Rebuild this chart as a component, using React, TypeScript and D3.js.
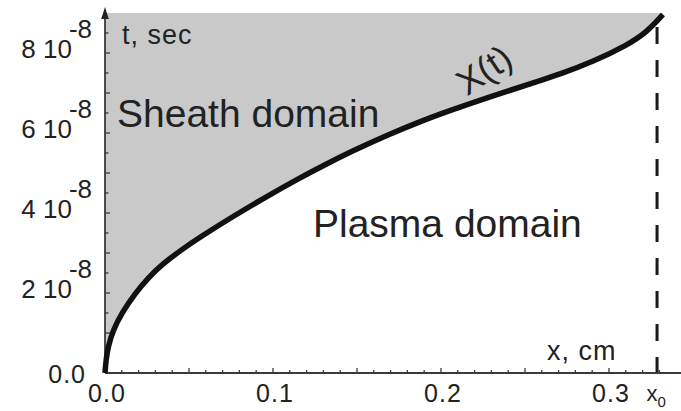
import React from "react";
import * as d3 from "d3";

// Boundary X(t): x in cm, t in units of 1e-8 s
const curveX = [0, 0.0006, 0.0018, 0.0048, 0.0101, 0.0179, 0.0256, 0.0339, 0.0458, 0.0565, 0.0762, 0.0964, 0.1161, 0.128, 0.1476, 0.1679, 0.1875, 0.1994, 0.219, 0.2393, 0.2589, 0.2708, 0.2905, 0.3107, 0.3226, 0.3321];
const curveT = [0, 0.325, 0.65, 1.075, 1.51, 1.99, 2.375, 2.715, 3.09, 3.395, 3.915, 4.418, 4.88, 5.145, 5.558, 5.948, 6.285, 6.475, 6.763, 7.043, 7.308, 7.473, 7.785, 8.193, 8.523, 8.963];

const xTickValues = [0, 0.1, 0.2, 0.3];
const xTickLabels = ["0.0", "0.1", "0.2", "0.3"];
const yTickValues = [0, 2, 4, 6, 8];
const yTickMantissa = ["0.0", "2 10", "4 10", "6 10", "8 10"];
const yExponent = "-8";
const x0Value = 0.3286;
const tTop = 9;

const FONT = "'Liberation Sans', Arial, Helvetica, sans-serif";

export default function App() {
  const W = 681, H = 411;
  const x = d3.scaleLinear().domain([0, 0.1]).range([105, 273]);
  const y = d3.scaleLinear().domain([0, 2]).range([373, 293]);

  const pts: [number, number][] = curveX.map((v, i) => [v, curveT[i]]);
  const line = d3.line<[number, number]>()
    .x(d => x(d[0]))
    .y(d => y(d[1]))
    .curve(d3.curveBasis);
  const curvePath = line(pts) || "";
  const last = pts[pts.length - 1];
  const fillPath = curvePath + `L${x(last[0])},${y(tTop)}L${x(0)},${y(tTop)}Z`;

  const xMinor = d3.range(0, 34).map(i => i / 100);
  const yMinor = d3.range(0, 18).map(i => i * 0.5);

  const axisColor = "#3a3a3a";
  const textColor = "#222";

  return (
    <svg width={W} height={H} style={{ position: "absolute", left: 0, top: 0, background: "#fff" }}
      fontFamily={FONT}>
      <rect x={0} y={0} width={W} height={H} fill="#fff" />
      {/* sheath domain fill */}
      <path d={fillPath} fill="#c9c9c9" stroke="none" />

      {/* dashed x0 line */}
      <line x1={x(x0Value)} x2={x(x0Value)} y1={27} y2={y(0)} stroke="#1a1a1a" strokeWidth={3}
        strokeDasharray="17 16" />

      {/* x axis */}
      <line x1={x(0)} x2={W} y1={y(0)} y2={y(0)} stroke={axisColor} strokeWidth={1.8} />
      {xMinor.map((v, i) => (
        <line key={"xm" + i} x1={x(v)} x2={x(v)} y1={y(0)} y2={y(0) - (i % 5 === 0 ? 5 : 3)}
          stroke={axisColor} strokeWidth={1.3} />
      ))}
      {/* y axis */}
      <line x1={x(0)} x2={x(0)} y1={y(0)} y2={16} stroke={axisColor} strokeWidth={1.8} />
      <path d={`M${x(0)},7L${x(0) - 3.8},19L${x(0) + 3.8},19Z`} fill="#222" />
      {yMinor.map((v, i) => (
        <line key={"ym" + i} x1={x(0)} x2={x(0) + (i % 2 === 0 ? 5 : 3.5)} y1={y(v)} y2={y(v)}
          stroke={axisColor} strokeWidth={1.3} />
      ))}

      {/* boundary curve */}
      <path d={curvePath} fill="none" stroke="#111" strokeWidth={5.5} strokeLinecap="butt" strokeLinejoin="round" />

      {/* x tick labels */}
      {xTickValues.map((v, i) => (
        <text key={"xl" + i} x={x(v) + 2} y={402} textAnchor="middle" fontSize={25} fill={textColor}
          letterSpacing={1}>{xTickLabels[i]}</text>
      ))}
      <text x={x(x0Value) - 1} y={401} textAnchor="middle" fontSize={22} fill={textColor}>
        x<tspan dy={6} fontSize={15}>0</tspan>
      </text>

      {/* y tick labels */}
      {yTickValues.map((v, i) => (
        v === 0 ? (
          <text key={"yl" + i} x={86} y={y(v) + 10} textAnchor="end" fontSize={25} fill={textColor}
            letterSpacing={1}>{yTickMantissa[i]}</text>
        ) : (
          <text key={"yl" + i} x={92} y={y(v) + 5} textAnchor="end" fontSize={26} fill={textColor}>
            {yTickMantissa[i]}<tspan dx={-3} dy={-20}>{yExponent}</tspan>
          </text>
        )
      ))}

      {/* axis titles */}
      <text x={122} y={44} fontSize={27} fill={textColor} letterSpacing={1}>t, sec</text>
      <text x={547} y={360} fontSize={27} fill={textColor} letterSpacing={1}>x, cm</text>

      {/* domain labels */}
      <text x={117} y={127} fontSize={39} fill={textColor}>Sheath domain</text>
      <text x={313} y={237} fontSize={39} fill={textColor}>Plasma domain</text>
      <text x={484} y={70} fontSize={36} fill={textColor} textAnchor="middle" dominantBaseline="central"
        transform={`rotate(-34, 484, 70)`}>X(t)</text>
    </svg>
  );
}
